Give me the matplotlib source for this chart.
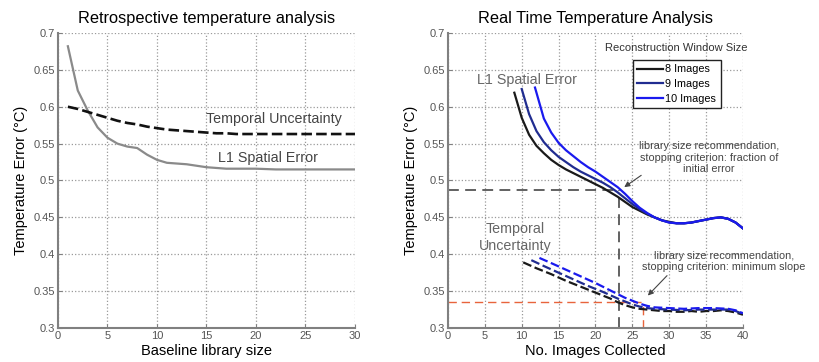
import matplotlib
matplotlib.use("Agg")
import matplotlib.pyplot as plt

plt.rcParams['font.family'] = ['Liberation Sans', 'DejaVu Sans']

# left panel: retrospective analysis
base_x = [1, 2, 3, 4, 5, 6, 7, 8, 9, 10, 11, 12, 13, 14, 15, 16, 17, 18, 20, 22, 25, 30]
l1_left = [0.682, 0.622, 0.595, 0.572, 0.558, 0.550, 0.546, 0.544, 0.535, 0.528, 0.524,
           0.523, 0.522, 0.520, 0.518, 0.517, 0.516, 0.516, 0.516, 0.515, 0.515, 0.515]
temporal_left = [0.600, 0.597, 0.593, 0.589, 0.585, 0.581, 0.578, 0.576, 0.573, 0.571, 0.569,
                 0.568, 0.567, 0.566, 0.565, 0.564, 0.564, 0.563, 0.563, 0.563, 0.563, 0.563]

# right panel: real time analysis, L1 spatial error per window size
tail_x = [31, 32, 33, 34, 35, 36, 37, 38, 39, 40]
tail_l1 = [0.442, 0.442, 0.443, 0.445, 0.447, 0.449, 0.450, 0.448, 0.443, 0.435]
x8 = list(range(9, 31)) + tail_x
l1_8 = [0.619, 0.585, 0.562, 0.547, 0.537, 0.528, 0.521, 0.515, 0.510, 0.505, 0.500,
        0.495, 0.490, 0.484, 0.478, 0.471, 0.464, 0.459, 0.454, 0.450, 0.446, 0.444] + tail_l1
x9 = list(range(10, 31)) + tail_x
l1_9 = [0.624, 0.590, 0.567, 0.552, 0.541, 0.532, 0.525, 0.518, 0.512, 0.507, 0.502,
        0.497, 0.491, 0.484, 0.476, 0.468, 0.461, 0.455, 0.450, 0.446, 0.443] + tail_l1
x10 = [11.8] + list(range(13, 31)) + tail_x
l1_10 = [0.626, 0.584, 0.565, 0.551, 0.541, 0.533, 0.525, 0.518, 0.512, 0.505, 0.498,
         0.491, 0.482, 0.472, 0.463, 0.456, 0.450, 0.446, 0.443] + tail_l1

# temporal uncertainty per window size
t8_x = [10.2, 12, 14, 16, 18, 20, 22, 23, 24, 25, 26, 27, 28, 29, 30, 31, 32, 33, 34, 35, 36, 37, 38, 39, 40]
t8 = [0.389, 0.381, 0.373, 0.364, 0.356, 0.348, 0.340, 0.335, 0.331, 0.328, 0.326, 0.325, 0.324,
      0.323, 0.323, 0.322, 0.322, 0.323, 0.322, 0.323, 0.323, 0.324, 0.323, 0.321, 0.318]
t9_x = [11.3, 13, 15, 17, 19, 21, 23, 24, 25, 26, 27, 28, 30, 32, 34, 36, 38, 39, 40]
t9 = [0.392, 0.384, 0.375, 0.366, 0.357, 0.349, 0.340, 0.336, 0.332, 0.329, 0.327, 0.326,
      0.325, 0.324, 0.325, 0.325, 0.325, 0.323, 0.319]
t10_x = [12.4, 14, 16, 18, 20, 22, 23, 24, 25, 26, 27, 28, 30, 32, 34, 36, 38, 39, 40]
t10 = [0.395, 0.388, 0.379, 0.370, 0.361, 0.351, 0.346, 0.341, 0.337, 0.333, 0.330, 0.328,
       0.327, 0.326, 0.327, 0.327, 0.326, 0.324, 0.320]

window_labels = ['8 Images', '9 Images', '10 Images']
window_colors = ['#1a1a1a', '#202c90', '#1a1aee']

# recommended library sizes
rec_fraction = (23.2, 0.4875)
rec_slope = (26.4, 0.3355)

yticks = [0.3, 0.35, 0.4, 0.45, 0.5, 0.55, 0.6, 0.65, 0.7]
yticklabels = ['0.3', '0.35', '0.4', '0.45', '0.5', '0.55', '0.6', '0.65', '0.7']


def style_axes(ax, xmax, xstep):
    ax.set_xlim(0, xmax)
    ax.set_ylim(0.3, 0.7)
    ax.set_xticks(range(0, xmax + 1, xstep))
    ax.set_yticks(yticks)
    ax.set_yticklabels(yticklabels)
    ax.grid(True, linestyle=':', color='#9a9a9a', linewidth=0.9)
    for s in ['top', 'right']:
        ax.spines[s].set_visible(False)
    for s in ['left', 'bottom']:
        ax.spines[s].set_color('#808080')
        ax.spines[s].set_linewidth(1.5)
    ax.tick_params(direction='in', length=3, colors='#808080', labelcolor='#555555',
                   labelsize=8, pad=2)
    ax.set_ylabel('Temperature Error (\u00b0C)', fontsize=10.5, labelpad=4)


fig = plt.figure(figsize=(8.2, 3.62), dpi=100)
ax1 = fig.add_axes([0.0707, 0.0939, 0.3622, 0.815])
ax2 = fig.add_axes([0.5463, 0.0939, 0.3598, 0.815])

# ---- left
style_axes(ax1, 30, 5)
ax1.plot(base_x, l1_left, color='#8a8a8a', lw=1.6)
ax1.plot(base_x, temporal_left, color='#111111', lw=1.9, dashes=(4, 1.6))
ax1.text(21.8, 0.584, 'Temporal Uncertainty', fontsize=10.3, color='#444444', ha='center', va='center')
ax1.text(21.2, 0.531, 'L1 Spatial Error', fontsize=10.3, color='#444444', ha='center', va='center')
ax1.set_title('Retrospective temperature analysis', fontsize=11.8, pad=7)
ax1.set_xlabel('Baseline library size', fontsize=10.5, labelpad=2)

# ---- right
style_axes(ax2, 40, 5)
ax2.plot([0, rec_fraction[0]], [rec_fraction[1]] * 2, color='#555555', lw=1.3, dashes=(6, 3.5))
ax2.plot([rec_fraction[0]] * 2, [0.3, rec_fraction[1]], color='#555555', lw=1.3, dashes=(6, 3.5))
ax2.plot([0, rec_slope[0]], [rec_slope[1]] * 2, color='#e8643c', lw=1.0, dashes=(6, 3.5))
ax2.plot([rec_slope[0]] * 2, [0.3, rec_slope[1]], color='#e8643c', lw=1.0, dashes=(6, 3.5))

handles = []
for xs, ys, c, lab in zip([x8, x9, x10], [l1_8, l1_9, l1_10], window_colors, window_labels):
    h, = ax2.plot(xs, ys, color=c, lw=1.6, label=lab)
    handles.append(h)
for xs, ys, c in zip([t8_x, t9_x, t10_x], [t8, t9, t10], window_colors):
    ax2.plot(xs, ys, color=c, lw=1.6, dashes=(4, 1.6))

ax2.text(10.7, 0.636, 'L1 Spatial Error', fontsize=10.3, color='#666666', ha='center', va='center')
ax2.text(9.1, 0.423, 'Temporal\nUncertainty', fontsize=10.3, color='#666666', ha='center',
         va='center', linespacing=1.3)

ax2.text(35.4, 0.531, 'library size recommendation,\nstopping criterion: fraction of\ninitial error',
         fontsize=7.8, color='#444444', ha='center', va='center', linespacing=1.2)
ax2.annotate('', xy=(23.9, 0.491), xytext=(26.2, 0.507),
             arrowprops=dict(arrowstyle='-|>', color='#444444', lw=0.8, mutation_scale=8,
                             shrinkA=0, shrinkB=0))
ax2.text(37.4, 0.390, 'library size recommendation,\nstopping criterion: minimum slope',
         fontsize=7.8, color='#444444', ha='center', va='center', linespacing=1.2)
ax2.annotate('', xy=(27.1, 0.344), xytext=(29.7, 0.371),
             arrowprops=dict(arrowstyle='-|>', color='#444444', lw=0.8, mutation_scale=8,
                             shrinkA=0, shrinkB=0))

ax2.text(30.9, 0.679, 'Reconstruction Window Size', fontsize=8, color='#333333',
         ha='center', va='center')
leg = ax2.legend(handles=handles, loc='upper left', bbox_to_anchor=(0.627, 0.9085),
                 fontsize=7.8, frameon=True, fancybox=False, framealpha=1,
                 handlelength=2.4, handletextpad=0.2, labelspacing=0.45, borderpad=0.4,
                 borderaxespad=0)
leg.get_frame().set_edgecolor('#222222')
leg.get_frame().set_linewidth(1.0)

ax2.set_title('Real Time Temperature Analysis', fontsize=11.8, pad=7)
ax2.set_xlabel('No. Images Collected', fontsize=10.5, labelpad=2)

fig.savefig('out.png', dpi=100)
